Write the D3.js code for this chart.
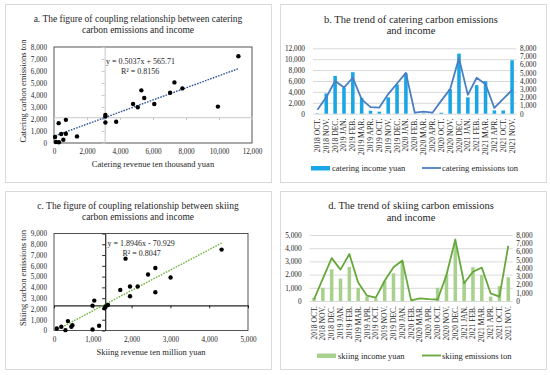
<!DOCTYPE html>
<html>
<head>
<meta charset="utf-8">
<script src="https://cdn.jsdelivr.net/npm/d3@7"></script>
<style>
body { margin: 0; background: #fff; }
text { font-family: "Liberation Serif", "Times New Roman", serif; fill: #262626; }
</style>
</head>
<body>
<svg id="fig" width="550" height="375"></svg>
<script>
// months used by both trend charts
const months = ["2018 OCT.", "2018 NOV.", "2018 DEC.", "2019 JAN.", "2019 FEB.", "2019 MAR.", "2019 APR.",
  "2019 OCT.", "2019 NOV.", "2019 DEC.", "2020 JAN.", "2020 FEB.", "2020 MAR.", "2020 APR.",
  "2020 OCT.", "2020 NOV.", "2020 DEC.", "2021 JAN.", "2021 FEB.", "2021 MAR.", "2021 APR.",
  "2021 OCT.", "2021 NOV."];

// b. catering trend
const cateringIncome = [60, 3700, 6940, 4750, 7620, 2920, 550, 370, 3000, 5370, 7400, 30, 60, 20,
  180, 4500, 11030, 3000, 5240, 5970, 600, 600, 9810];
const cateringEmissions = [480, 2000, 4000, 3200, 4400, 1750, 800, 750, 2400, 3700, 5000, 120, 250, 120,
  1600, 3000, 6800, 2300, 4400, 3600, 700, 1800, 2900];

// d. skiing trend
const skiingIncome = [250, 1000, 2400, 1700, 2580, 1000, 330, 200, 1500, 2100, 3000, 0, 0, 0,
  1000, 2000, 4300, 1500, 2560, 1960, 330, 1130, 1800];
const skiingEmissions = [200, 2700, 5200, 3800, 5700, 2250, 650, 400, 2450, 4100, 4900, 80, 320, 220,
  180, 3150, 7450, 2150, 3550, 4050, 930, 520, 6700];

// a. catering scatter (revenue, emissions)
const cateringRevenuePts = [11176, 7298, 7778, 7037, 5294, 5468, 4793, 5076, 6078, 9935, 3115, 3115,
  3115, 3769, 719, 283, 1394, 719, 436, 566, 65, 120, 300];
const cateringEmissionPts = [7228, 5048, 4552, 4193, 4386, 3752, 3255, 2979, 3255, 3034, 2345, 2207,
  1710, 1766, 1931, 1655, 552, 772, 745, 276, 497, 80, 60];

// c. skiing scatter (revenue, emissions)
const skiingRevenuePts = [4320, 1843, 2612, 2424, 3005, 1959, 2156, 1708, 1959, 2612, 1038, 993,
  1300, 1330, 1390, 358, 188, 72, 295, 447, 474, 993, 1163];
const skiingEmissionPts = [7508, 6667, 5794, 5202, 4922, 4081, 4081, 3769, 3178, 3551, 2773, 2305,
  2056, 2212, 2368, 872, 343, 187, 31, 343, 498, 93, 436];

const svg = d3.select("#fig");
svg.append("rect").attr("width", 550).attr("height", 375).attr("fill", "#fff");

// panel frames
[[5, 4], [280, 4], [5, 191], [280, 191]].forEach(([px, py]) => {
  svg.append("rect")
    .attr("x", px + 0.5).attr("y", py + 0.5)
    .attr("width", 266).attr("height", 178)
    .attr("fill", "none").attr("stroke", "#d9d9d9");
});

const fmt = d3.format(",");

// d3 axes put their own font attrs on the group, so set ours after the call
function labelAxis(sel, size) {
  sel.attr("font-size", size).attr("font-family", null);
  sel.select(".domain").remove();
}

function makeScatter(c) {
  const x = d3.scaleLinear().domain([0, c.xMax]).range([c.left, c.right]);
  const y = d3.scaleLinear().domain([0, c.yMax]).range([c.bottom, c.top]);
  const g = svg.append("g");

  c.title.forEach((t, i) => {
    g.append("text").attr("x", c.titleX).attr("y", c.titleY + i * 10.5)
      .attr("text-anchor", "middle").attr("font-size", 9.5).text(t);
  });

  // plot box
  g.append("rect")
    .attr("x", c.left).attr("y", c.top)
    .attr("width", c.right - c.left).attr("height", c.bottom - c.top)
    .attr("fill", "none").attr("stroke", "#404040").attr("stroke-width", 0.9);

  // tick labels at the low side
  g.append("g").attr("transform", `translate(${c.left},0)`)
    .call(d3.axisLeft(y).tickValues(d3.range(0, c.yMax + 1, 1000)).tickSize(0).tickPadding(7).tickFormat(fmt))
    .call(labelAxis, 7.2);
  g.append("g").attr("transform", `translate(0,${c.bottom})`)
    .call(d3.axisBottom(x).tickValues(d3.range(0, c.xMax + 1, c.xStep)).tickSize(0).tickPadding(6).tickFormat(fmt))
    .call(labelAxis, 7.2);

  // crossing axes
  const vx = g.append("g").attr("transform", `translate(${x(c.crossX)},0)`)
    .call(d3.axisLeft(y).tickValues(d3.range(0, c.yMax + 1, 1000)).tickSize(3).tickSizeOuter(0).tickFormat(""));
  const hx = g.append("g").attr("transform", `translate(0,${y(c.crossY)})`)
    .call(d3.axisBottom(x).tickValues(d3.range(0, c.xMax + 1, c.xStep)).tickSize(3).tickSizeOuter(0).tickFormat(""));
  [vx, hx].forEach(a => {
    a.select(".domain").attr("stroke", c.crossColor).attr("stroke-width", c.crossWidth);
    a.selectAll(".tick line").attr("stroke", c.crossColor);
  });

  // trendline
  const x0 = d3.min(c.xs), x1 = d3.max(c.xs);
  g.append("line")
    .attr("x1", x(x0)).attr("y1", y(c.slope * x0 + c.intercept))
    .attr("x2", x(x1)).attr("y2", y(c.slope * x1 + c.intercept))
    .attr("stroke", c.trendColor).attr("stroke-width", 1.4).attr("stroke-dasharray", "1.6,1.2");

  g.append("g").selectAll("circle")
    .data(c.xs.map((v, i) => [v, c.ys[i]]))
    .join("circle")
    .attr("cx", d => x(d[0])).attr("cy", d => y(d[1]))
    .attr("r", 2.2).attr("fill", "#000");

  g.append("text").attr("x", c.eqX).attr("y", c.eqY).attr("font-size", 8).text(c.eq);
  g.append("text").attr("x", c.eqX + 15).attr("y", c.eqY + 10).attr("font-size", 8).text(c.r2);

  g.append("text").attr("x", (c.left + c.right) / 2).attr("y", c.bottom + 24)
    .attr("text-anchor", "middle").attr("font-size", 8.5).text(c.xTitle);
  g.append("text")
    .attr("transform", `translate(${c.left - 28},${(c.top + c.bottom) / 2 - 4}) rotate(-90)`)
    .attr("text-anchor", "middle").attr("font-size", 8.5).text(c.yTitle);
}

function makeTrend(c) {
  const x = d3.scaleBand().domain(months).range([c.left, c.right]).paddingInner(0.6).paddingOuter(0.3);
  const yL = d3.scaleLinear().domain([0, c.lMax]).range([c.bottom, c.top]);
  const yR = d3.scaleLinear().domain([0, 8000]).range([c.bottom, c.top]);
  const g = svg.append("g");

  c.title.forEach((t, i) => {
    g.append("text").attr("x", c.titleX).attr("y", c.titleY + i * 11.5)
      .attr("text-anchor", "middle").attr("font-size", 10.5).text(t);
  });

  // gridlines
  g.append("g").attr("transform", `translate(${c.left},0)`)
    .call(d3.axisLeft(yL).tickValues(d3.range(0, c.lMax + 1, c.lStep)).tickSize(-(c.right - c.left)).tickFormat(""))
    .call(a => a.select(".domain").remove())
    .selectAll(".tick line").attr("stroke", "#d9d9d9");

  g.append("g").attr("transform", `translate(${c.left - 8},0)`)
    .call(d3.axisLeft(yL).tickValues(d3.range(0, c.lMax + 1, c.lStep)).tickSize(0).tickPadding(0).tickFormat(fmt))
    .call(labelAxis, 7.3);
  g.append("g").attr("transform", `translate(${c.right + 3.5},0)`)
    .call(d3.axisRight(yR).tickValues(d3.range(0, 8001, 1000)).tickSize(0).tickPadding(0).tickFormat(fmt))
    .call(labelAxis, 7.3);

  g.append("g").attr("transform", `translate(0,${c.bottom})`)
    .call(d3.axisBottom(x).tickSize(0))
    .call(labelAxis, 7.6)
    .selectAll("text")
    .attr("x", -5).attr("y", 0).attr("dy", "0.33em")
    .attr("transform", "rotate(-90)").attr("text-anchor", "end");

  g.append("g").selectAll("rect")
    .data(months.map((m, i) => [m, c.income[i]]))
    .join("rect")
    .attr("x", d => x(d[0])).attr("width", x.bandwidth())
    .attr("y", d => yL(d[1])).attr("height", d => c.bottom - yL(d[1]))
    .attr("fill", c.barColor);

  const line = d3.line()
    .x(d => x(d[0]) + x.bandwidth() / 2)
    .y(d => yR(d[1]));
  g.append("path")
    .datum(months.map((m, i) => [m, c.emissions[i]]))
    .attr("d", line).attr("fill", "none")
    .attr("stroke", c.lineColor).attr("stroke-width", 1.8).attr("stroke-linejoin", "round");

  // legend
  g.append("rect").attr("x", c.legX).attr("y", c.legY - 2).attr("width", 19).attr("height", 4.5).attr("fill", c.barColor);
  g.append("text").attr("x", c.legX + 21).attr("y", c.legY + 3).attr("font-size", 8.5).text(c.barName);
  g.append("line").attr("x1", 422).attr("x2", 441).attr("y1", c.legY).attr("y2", c.legY)
    .attr("stroke", c.lineColor).attr("stroke-width", 1.8);
  g.append("text").attr("x", 442).attr("y", c.legY + 3).attr("font-size", 8.5).text(c.lineName);
}

makeScatter({
  left: 54, right: 252, top: 47, bottom: 143,
  xMax: 12000, yMax: 8000, xStep: 2000,
  crossX: 3070, crossY: 2150, crossColor: "#c8c8c8", crossWidth: 1,
  xs: cateringRevenuePts, ys: cateringEmissionPts,
  slope: 0.5037, intercept: 565.71, trendColor: "#2f5597",
  eq: "y = 0.5037x + 565.71", r2: "R² = 0.8156", eqX: 106, eqY: 64,
  title: ["a. The figure of coupling relationship between catering", "carbon emissions and income"],
  titleX: 138, titleY: 22,
  xTitle: "Catering revenue ten thousand yuan", yTitle: "Catering carbon emissions ton"
});

makeScatter({
  left: 54, right: 248, top: 233.5, bottom: 330.5,
  xMax: 5000, yMax: 9000, xStep: 1000,
  crossX: 1320, crossY: 2336, crossColor: "#262626", crossWidth: 1.2,
  xs: skiingRevenuePts, ys: skiingEmissionPts,
  slope: 1.8946, intercept: -70.929, trendColor: "#6fb33b",
  eq: "y = 1.8946x - 70.929", r2: "R² = 0.8047", eqX: 107.5, eqY: 245.5,
  title: ["c. The figure of coupling relationship between skiing", "carbon emissions and income"],
  titleX: 138, titleY: 209,
  xTitle: "Skiing revenue ten million yuan", yTitle: "Skiing carbon emissions ton"
});

makeTrend({
  left: 313, right: 516.5, top: 48.3, bottom: 113.7,
  lMax: 12000, lStep: 2000,
  income: cateringIncome, emissions: cateringEmissions,
  barColor: "#1aa6e6", lineColor: "#4a7fc1",
  title: ["b. The trend of catering carbon emissions", "and income"], titleX: 411, titleY: 22.5,
  legX: 311, legY: 168, barName: "catering income yuan", lineName: "catering emissions ton"
});

makeTrend({
  left: 309.6, right: 512.7, top: 235, bottom: 301,
  lMax: 5000, lStep: 1000,
  income: skiingIncome, emissions: skiingEmissions,
  barColor: "#a9d18e", lineColor: "#66a83c",
  title: ["d. The trend of skiing carbon emissions", "and income"], titleX: 411, titleY: 209,
  legX: 317, legY: 355.5, barName: "skiing income yuan", lineName: "skiing emissions ton"
});
</script>
</body>
</html>
